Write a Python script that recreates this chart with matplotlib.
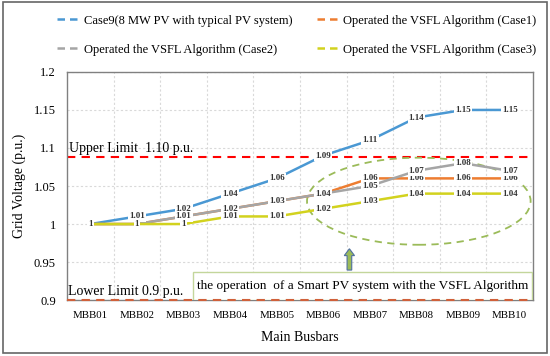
import matplotlib.pyplot as plt
from matplotlib.patches import Ellipse, Rectangle, FancyArrow

plt.rcParams['font.family'] = ['Liberation Serif', 'DejaVu Serif']

busbars = ["MBB01", "MBB02", "MBB03", "MBB04", "MBB05",
           "MBB06", "MBB07", "MBB08", "MBB09", "MBB10"]
case9 = [1, 1.01, 1.02, 1.04, 1.06, 1.09, 1.11, 1.14, 1.15, 1.15]
case1 = [1, 1, 1.01, 1.02, 1.03, 1.04, 1.06, 1.06, 1.06, 1.06]
case2 = [1, 1, 1.01, 1.02, 1.03, 1.04, 1.05, 1.07, 1.08, 1.07]
case3 = [1, 1, 1, 1.01, 1.01, 1.02, 1.03, 1.04, 1.04, 1.04]
y_ticks = [0.9, 0.95, 1, 1.05, 1.1, 1.15, 1.2]
y_tick_labels = ["0.9", "0.95", "1", "1.05", "1.1", "1.15", "1.2"]

series = [
    ("Case9(8 MW PV with typical PV system)", case9, "#4A98D3"),
    ("Operated the VSFL Algorithm (Case1)", case1, "#ED7D31"),
    ("Operated the VSFL Algorithm (Case2)", case2, "#A5A5A5"),
    ("Operated the VSFL Algorithm (Case3)", case3, "#D2D21E"),
]

fig = plt.figure(figsize=(5.5, 3.56), dpi=100)
ax = fig.add_axes([0.122, 0.157, 0.847, 0.641])

x = list(range(len(busbars)))
handles = []
for i, (name, vals, col) in enumerate(series):
    ax.plot(x, vals, color=col, lw=1.8, zorder=3 + i)
    # legend uses dashed handles like the original
    h, = ax.plot([], [], color=col, lw=1.8, ls=(0, (3, 2)), label=name)
    handles.append(h)

# data labels with white box (they break the lines)
for i, (name, vals, col) in enumerate(series):
    for xi, v in zip(x, vals):
        ax.text(xi, v, f"{v:g}", ha="center", va="center", fontsize=6.5,
                fontweight="bold", color="#333333", zorder=10,
                bbox=dict(boxstyle="square,pad=0.12", fc="white", ec="none"))

# limits
ax.axhline(1.088, color="#FF0000", ls=(0, (4, 3)), lw=1.5, zorder=2)
ax.text(-0.45, 1.091, "Upper Limit  1.10 p.u.", fontsize=10, va="bottom")
ax.axhline(0.9005, color="#D0603A", ls=(0, (4, 3)), lw=1.5, zorder=7, clip_on=False)
ax.text(-0.47, 0.903, "Lower Limit 0.9 p.u.", fontsize=10, va="bottom")

# highlighted region
ax.add_patch(Ellipse((7.05, 1.030), 4.8, 0.1145, fill=False, ec="#9BBB59",
                     ls=(0, (4, 3)), lw=1.3, zorder=2))
ax.add_patch(FancyArrow(5.56, 0.9395, 0, 0.028, width=0.1, head_width=0.22,
                        head_length=0.009, length_includes_head=True,
                        fc="#9BBB59", ec="#4F6FA0", lw=0.8, zorder=5))
ax.add_patch(Rectangle((0.27, 0.0), 0.727, 0.123, transform=ax.transAxes,
                       fc="white", ec="#C3D69B", lw=1, zorder=4))
ax.text(0.27 + 0.3635, 0.062, "the operation  of a Smart PV system with the VSFL Algorithm",
        transform=ax.transAxes, ha="center", va="center", fontsize=9.5, zorder=6)

ax.set_xlim(-0.5, 9.5)
ax.set_ylim(0.9, 1.2)
ax.set_xticks(x)
ax.set_xticklabels(busbars, fontsize=7.8)
ax.set_xticks([i + 0.5 for i in range(9)], minor=True)
ax.set_yticks(y_ticks)
ax.set_yticklabels(y_tick_labels, fontsize=9)
ax.tick_params(which="both", length=0, pad=8)
ax.grid(axis="y", color="#D9D9D9", ls=(0, (2, 2)), lw=0.8)
ax.grid(axis="x", which="minor", color="#D9D9D9", ls=(0, (2, 2)), lw=0.8)
for s in ax.spines.values():
    s.set_color("#808080")
    s.set_linewidth(1)
ax.set_xlabel("Main Busbars", fontsize=10, labelpad=8)
ax.set_ylabel("Grid Voltage (p.u.)", fontsize=10, labelpad=6)

# legend fills column-wise, so reorder to get Case9/Case1 on the first row
order = [0, 2, 1, 3]
fig.legend(handles=[handles[k] for k in order], loc="upper center",
           bbox_to_anchor=(0.54, 0.99), ncol=2, frameon=False, fontsize=9,
           labelspacing=1.35, columnspacing=2.0, handlelength=1.8, handletextpad=0.3)

fig.add_artist(Rectangle((0.006, 0.008), 0.988, 0.985, transform=fig.transFigure,
                         fill=False, ec="#666666", lw=1.2))

fig.savefig("out.png", dpi=100)
